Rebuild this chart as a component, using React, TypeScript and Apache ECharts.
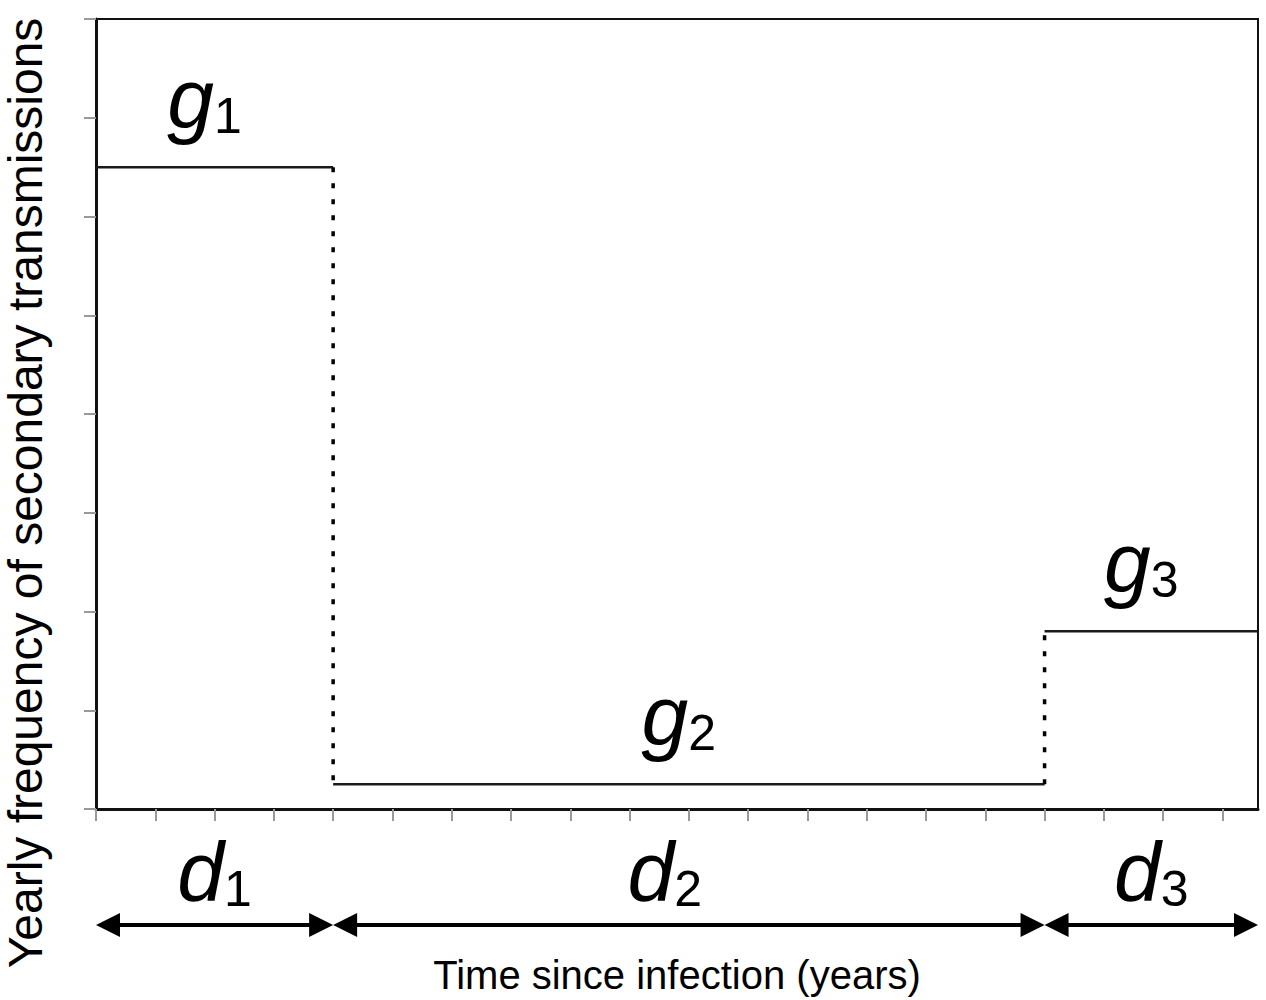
import React, { useEffect, useRef } from "react";
import * as echarts from "echarts";

// Durations of the three phases (years): d1, d2, d3
const durations = [4, 12, 3.6];
// Transmission rate level in each phase: g1, g2, g3
const levels = [6.5, 0.25, 1.8];
// Subscript labels of the phases
const phaseIds = ["1", "2", "3"];
// Axis tick values
const xTicks = [0, 1, 2, 3, 4, 5, 6, 7, 8, 9, 10, 11, 12, 13, 14, 15, 16, 17, 18, 19];
const yMin = 0;
const yMax = 8;
const yInterval = 1;
const xTitle = "Time since infection (years)";
const yTitle = "Yearly frequency of secondary transmissions";

const FONT = '"Liberation Sans", Arial, sans-serif';

export default function App() {
  const ref = useRef<HTMLDivElement>(null);

  useEffect(() => {
    document.body.style.margin = "0";
    const chart = echarts.init(ref.current!, null, { renderer: "svg" });

    const starts: number[] = [];
    let acc = 0;
    durations.forEach((d) => {
      starts.push(acc);
      acc += d;
    });
    const xMax = acc;

    const stepData = durations.map((d, i) => [
      starts[i],
      starts[i] + d,
      levels[i],
      i > 0 ? levels[i - 1] : levels[i],
      i,
    ]);
    const arrowData = durations.map((d, i) => [starts[i], starts[i] + d, i]);

    const bigRich = () => ({
      v: {
        fontFamily: FONT,
        fontStyle: "italic",
        fontSize: 84,
        lineHeight: 84,
        fill: "#000",
        color: "#000",
        verticalAlign: "bottom",
      },
      s: {
        fontFamily: FONT,
        fontSize: 50,
        lineHeight: 60,
        fill: "#000",
        color: "#000",
        verticalAlign: "bottom",
      },
    });

    // small visual nudges of the phase labels (pixels)
    const dLabelNudge = [0, -24, 0];

    const option: any = {
      animation: false,
      backgroundColor: "#fff",
      grid: [
        {
          left: 96,
          top: 19,
          width: 1162,
          height: 791,
          show: true,
          borderColor: "#111",
          borderWidth: 2,
        },
        { left: 96, top: 900, width: 1162, height: 50 },
      ],
      xAxis: [
        {
          type: "value",
          gridIndex: 0,
          min: 0,
          max: xMax,
          splitLine: { show: false },
          axisLabel: { show: false },
          axisLine: { lineStyle: { color: "#111", width: 3 } },
          axisTick: {
            length: 12,
            customValues: xTicks,
            lineStyle: { color: "#999", width: 2 },
          },
          name: xTitle,
          nameLocation: "middle",
          nameGap: 146,
          nameTextStyle: { fontFamily: FONT, fontSize: 40, color: "#000" },
        },
        { type: "value", gridIndex: 1, min: 0, max: xMax, show: false },
      ],
      yAxis: [
        {
          type: "value",
          gridIndex: 0,
          min: yMin,
          max: yMax,
          interval: yInterval,
          splitLine: { show: false },
          axisLabel: { show: false },
          axisLine: { lineStyle: { color: "#111", width: 3 } },
          axisTick: { length: 12, lineStyle: { color: "#999", width: 2 } },
        },
        { type: "value", gridIndex: 1, min: 0, max: 1, show: false },
      ],
      graphic: [
        {
          type: "text",
          x: 25,
          y: 493,
          rotation: Math.PI / 2,
          style: {
            text: yTitle,
            font: `48px ${FONT}`,
            fill: "#000",
            align: "center",
            verticalAlign: "middle",
          },
        },
      ],
      series: [
        {
          type: "custom",
          xAxisIndex: 0,
          yAxisIndex: 0,
          clip: false,
          encode: { x: [0, 1], y: [2, 3] },
          data: stepData,
          renderItem: (params: any, api: any) => {
            const x0 = api.value(0);
            const x1 = api.value(1);
            const g = api.value(2);
            const prev = api.value(3);
            const idx = api.value(4);
            const p0 = api.coord([x0, g]);
            const p1 = api.coord([x1, g]);
            const children: any[] = [
              {
                type: "line",
                shape: { x1: p0[0], y1: p0[1], x2: p1[0], y2: p1[1] },
                style: { stroke: "#1a1a1a", lineWidth: 2.5 },
              },
            ];
            if (idx > 0) {
              const pp = api.coord([x0, prev]);
              children.push({
                type: "line",
                shape: { x1: pp[0], y1: pp[1], x2: p0[0], y2: p0[1] },
                style: { stroke: "#000", lineWidth: 3.5, lineDash: [5, 11] },
              });
            }
            children.push({
              type: "text",
              x: (p0[0] + p1[0]) / 2 - 10,
              y: p0[1] - 26,
              style: {
                text: `{v|g}{s|${phaseIds[idx]}}`,
                rich: bigRich(),
                align: "center",
                verticalAlign: "bottom",
              },
            });
            return { type: "group", children };
          },
        },
        {
          type: "custom",
          xAxisIndex: 1,
          yAxisIndex: 1,
          clip: false,
          encode: { x: [0, 1] },
          data: arrowData,
          renderItem: (params: any, api: any) => {
            const x0 = api.value(0);
            const x1 = api.value(1);
            const idx = api.value(2);
            const a = api.coord([x0, 0.5]);
            const b = api.coord([x1, 0.5]);
            const y = a[1];
            const L = 24;
            const H = 12;
            return {
              type: "group",
              children: [
                {
                  type: "line",
                  shape: { x1: a[0] + L - 2, y1: y, x2: b[0] - L + 2, y2: y },
                  style: { stroke: "#000", lineWidth: 4 },
                },
                {
                  type: "polygon",
                  shape: { points: [[a[0], y], [a[0] + L, y - H], [a[0] + L, y + H]] },
                  style: { fill: "#000" },
                },
                {
                  type: "polygon",
                  shape: { points: [[b[0], y], [b[0] - L, y - H], [b[0] - L, y + H]] },
                  style: { fill: "#000" },
                },
                {
                  type: "text",
                  x: (a[0] + b[0]) / 2 + dLabelNudge[idx],
                  y: y - 11,
                  style: {
                    text: `{v|d}{s|${phaseIds[idx]}}`,
                    rich: bigRich(),
                    align: "center",
                    verticalAlign: "bottom",
                  },
                },
              ],
            };
          },
        },
      ],
    };

    chart.setOption(option);
    return () => chart.dispose();
  }, []);

  return <div ref={ref} style={{ width: 1266, height: 1000 }} />;
}
